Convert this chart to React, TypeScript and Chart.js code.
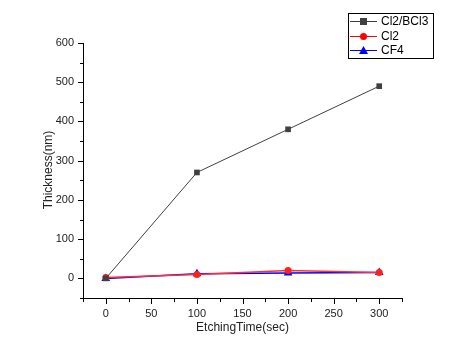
import React, { useEffect, useRef } from "react";
import { Chart, registerables } from "chart.js";

Chart.register(...registerables);

const times = [0, 100, 200, 300];
const cl2bcl3 = [0, 270, 380, 490];
const cl2 = [2, 10, 20, 15];
const cf4 = [0, 12, 14, 15];
const seriesNames = ["Cl2/BCl3", "Cl2", "CF4"];
const xTicks = [0, 50, 100, 150, 200, 250, 300];
const yTicks = [0, 100, 200, 300, 400, 500, 600];
const xMinor = [25, 75, 125, 175, 225, 275, 325, -25];
const yMinor = [-50, 50, 150, 250, 350, 450, 550];

const FONT = "'Liberation Sans', Arial, sans-serif";

export default function App() {
  const ref = useRef<HTMLCanvasElement | null>(null);
  useEffect(() => {
    const canvas = ref.current!;
    const mk = (xs: number[], ys: number[]) => xs.map((x, i) => ({ x, y: ys[i] }));
    const axesPlugin = {
      id: "axesPlugin",
      afterDatasetsDraw(chart: any) {
        const ctx = chart.ctx;
        const xs = chart.scales.x;
        const ys = chart.scales.y;
        const { left, right, top, bottom } = chart.chartArea;
        ctx.save();
        ctx.strokeStyle = "#000";
        ctx.lineWidth = 1;
        ctx.beginPath();
        ctx.moveTo(left + 0.5, top);
        ctx.lineTo(left + 0.5, bottom + 0.5);
        ctx.lineTo(right, bottom + 0.5);
        ctx.stroke();
        ctx.beginPath();
        for (const v of yTicks) {
          const y = Math.round(ys.getPixelForValue(v)) + 0.5;
          ctx.moveTo(left - 5, y);
          ctx.lineTo(left, y);
        }
        for (const v of yMinor) {
          const y = Math.round(ys.getPixelForValue(v)) + 0.5;
          ctx.moveTo(left - 3, y);
          ctx.lineTo(left, y);
        }
        for (const v of xTicks) {
          const x = Math.round(xs.getPixelForValue(v)) + 0.5;
          ctx.moveTo(x, bottom);
          ctx.lineTo(x, bottom + 6);
        }
        for (const v of xMinor) {
          const x = Math.round(xs.getPixelForValue(v)) + 0.5;
          ctx.moveTo(x, bottom);
          ctx.lineTo(x, bottom + 4);
        }
        ctx.stroke();
        ctx.fillStyle = "#222";
        ctx.font = `11px ${FONT}`;
        ctx.textAlign = "right";
        ctx.textBaseline = "middle";
        for (const v of yTicks) {
          ctx.fillText(String(v), left - 9, ys.getPixelForValue(v));
        }
        ctx.textAlign = "center";
        ctx.textBaseline = "top";
        for (const v of xTicks) {
          ctx.fillText(String(v), xs.getPixelForValue(v), bottom + 10);
        }
        ctx.font = `12px ${FONT}`;
        ctx.fillText("EtchingTime(sec)", (left + right) / 2, bottom + 24);
        ctx.save();
        ctx.translate(49, 170);
        ctx.rotate(-Math.PI / 2);
        ctx.textBaseline = "middle";
        ctx.fillText("Thickness(nm)", 0, 0);
        ctx.restore();

        // legend
        const lx = 348, ly = 13, lw = 85, lh = 45;
        ctx.strokeStyle = "#000";
        ctx.strokeRect(lx + 0.5, ly + 0.5, lw, lh);
        const rows = [21, 36, 50];
        const colors = ["#404040", "#ff0000", "#0000ff"];
        ctx.textAlign = "left";
        ctx.textBaseline = "middle";
        ctx.font = `12px ${FONT}`;
        rows.forEach((ry, i) => {
          ctx.strokeStyle = colors[i];
          ctx.fillStyle = colors[i];
          ctx.beginPath();
          ctx.moveTo(350, ry + 0.5);
          ctx.lineTo(377, ry + 0.5);
          ctx.stroke();
          if (i === 0) {
            ctx.fillRect(360, ry - 3, 7, 7);
          } else if (i === 1) {
            ctx.beginPath();
            ctx.arc(363.5, ry + 0.5, 3.5, 0, Math.PI * 2);
            ctx.fill();
          } else {
            ctx.beginPath();
            ctx.moveTo(363.5, ry - 4);
            ctx.lineTo(368, ry + 4);
            ctx.lineTo(359, ry + 4);
            ctx.closePath();
            ctx.fill();
          }
          ctx.fillStyle = "#000";
          ctx.fillText(seriesNames[i], 381, ry + 1);
        });
        ctx.restore();
      },
    };
    const chart = new Chart(canvas, {
      type: "line",
      data: {
        datasets: [
          {
            label: seriesNames[0],
            data: mk(times, cl2bcl3),
            borderColor: "#404040",
            backgroundColor: "#404040",
            borderWidth: 1,
            pointStyle: "rect",
            pointRadius: 4,
            pointBorderWidth: 0,
          },
          {
            label: seriesNames[1],
            data: mk(times, cl2),
            borderColor: "#ff3030",
            backgroundColor: "#ff2020",
            borderWidth: 1.5,
            pointStyle: "circle",
            pointRadius: 3.5,
            pointBorderWidth: 0,
          },
          {
            label: seriesNames[2],
            data: mk(times, cf4),
            borderColor: "#0000ff",
            backgroundColor: "#0000ff",
            borderWidth: 1.5,
            pointStyle: "triangle",
            pointRadius: 5,
            pointBorderWidth: 0,
          },
        ],
      },
      plugins: [axesPlugin],
      options: {
        animation: false,
        responsive: false,
        events: [],
        layout: { padding: { left: 83, right: 67, top: 43, bottom: 62 } },
        plugins: { legend: { display: false }, tooltip: { enabled: false } },
        scales: {
          x: { type: "linear", min: -25, max: 325, display: false },
          y: { type: "linear", min: -50, max: 600, display: false },
        },
      },
    });
    return () => chart.destroy();
  }, []);
  return (
    <div style={{ position: "fixed", left: 0, top: 0, width: 469, height: 360, background: "#fff" }}>
      <canvas ref={ref} width={469} height={360} style={{ width: 469, height: 360 }} />
    </div>
  );
}
